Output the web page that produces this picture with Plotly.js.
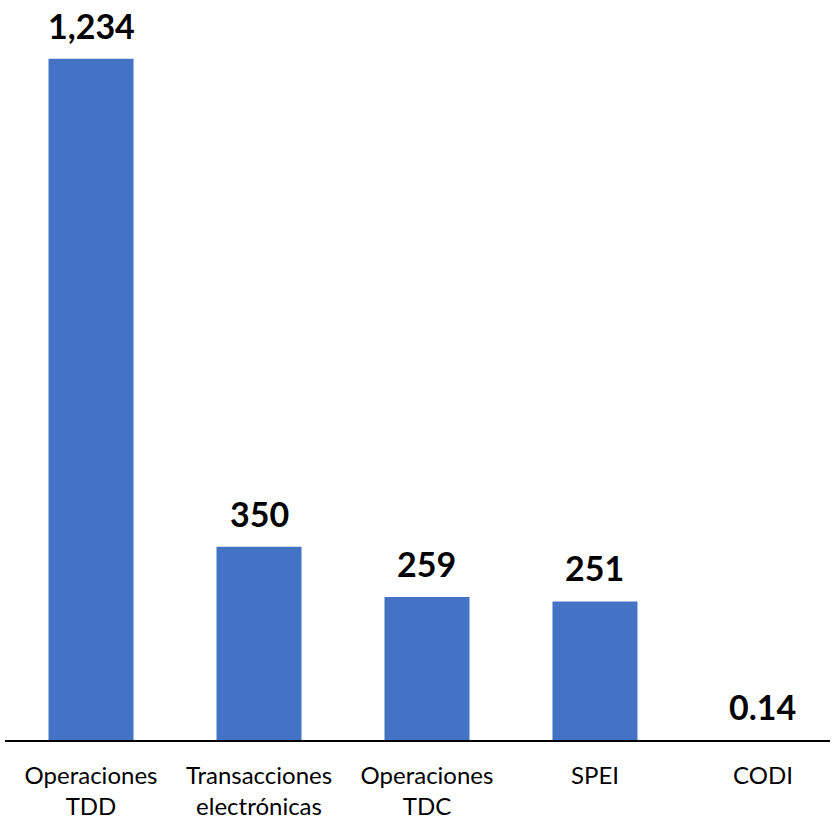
<!DOCTYPE html>
<html><head><meta charset="utf-8">
<script src="https://cdn.plot.ly/plotly-3.0.1.min.js"></script>
<style>html,body{margin:0;padding:0;background:#fff}</style>
</head><body>
<div id="chart" style="width:835px;height:819px"></div>
<script>
const categories = ["Operaciones<br>TDD", "Transacciones<br>electrónicas", "Operaciones<br>TDC", "SPEI", "CODI"];
const values = [1234, 350, 259, 251, 0.14];
const valueLabels = ["1,234", "350", "259", "251", "0.14"];

const idx = categories.map((_, i) => i);
const trace = {
  type: "bar",
  x: idx,
  y: values,
  width: 0.506,
  marker: {color: "#4472C4"},
  hoverinfo: "skip"
};
const annotations = values.map((v, i) => ({
  x: i, y: v, xref: "x", yref: "y",
  text: "<b>" + valueLabels[i] + "</b>",
  showarrow: false, yanchor: "bottom", yshift: 11,
  font: {family: "Lato, sans-serif", size: 34, color: "#000"}
}));
const layout = {
  width: 835, height: 819,
  margin: {l: 5, r: 5, t: 0, b: 79},
  paper_bgcolor: "#fff", plot_bgcolor: "#fff",
  showlegend: false,
  xaxis: {
    range: [-0.512, 4.399],
    tickvals: idx, ticktext: categories,
    showgrid: false, zeroline: false,
    showline: true, linecolor: "#000", linewidth: 2,
    ticks: "", ticklabelstandoff: 13,
    tickfont: {family: "Lato, sans-serif", size: 24, color: "#000"},
    fixedrange: true
  },
  yaxis: {
    range: [0, 1340.6],
    visible: false, showgrid: false, zeroline: false,
    fixedrange: true
  },
  annotations: annotations
};
Plotly.newPlot("chart", [trace], layout, {displayModeBar: false, staticPlot: true});
</script>
</body></html>
